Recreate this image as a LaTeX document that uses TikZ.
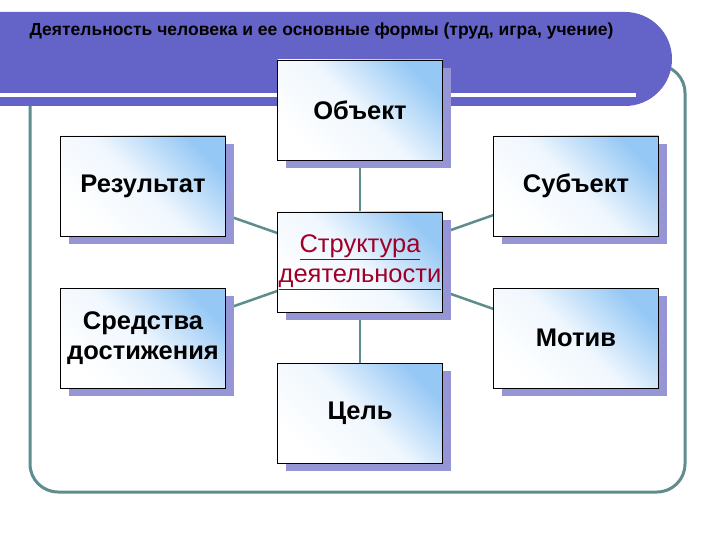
\documentclass[tikz,border=0pt]{standalone}
\usepackage{fontspec}
\setmainfont{Liberation Sans}
\usetikzlibrary{calc}
\definecolor{band}{RGB}{100,100,200}
\definecolor{frame}{RGB}{95,140,140}
\definecolor{shad}{RGB}{150,150,215}
\definecolor{lb}{RGB}{150,200,245}
\definecolor{dred}{RGB}{160,0,40}
\tikzset{
  box/.style={draw=black,line width=0.8pt,minimum width=165pt,minimum height=100pt,
    top color=lb,bottom color=white,middle color=white!85!lb,shading angle=-45,
    align=center,font=\bfseries\fontsize{25.5}{30}\selectfont,inner sep=1pt},
  link/.style={draw=frame,line width=2.5pt},
}
\begin{document}
\begin{tikzpicture}[x=1pt,y=-1pt]
\useasboundingbox (0,0) rectangle (720,540);
\fill[white] (0,0) rectangle (720,540);
% frame
\draw[frame,line width=3pt,rounded corners=28pt] (30,80) -- (30,492) -- (685,492) -- (685,65) -- (655,65);
% header band
\fill[band] (0,12) -- (625,12) arc[start angle=-90,end angle=90,radius=47] -- (0,106) -- cycle;
\fill[white] (0,93) rectangle (636,97);
\node[anchor=west,font=\bfseries\fontsize{17.5}{20}\selectfont] (title) at (26,31) {Деятельность человека и ее основные формы (труд, игра, учение)};
% box positions
\coordinate (pO) at (360,110);
\coordinate (pR) at (143,186);
\coordinate (pS) at (576,186);
\coordinate (pC) at (360,262);
\coordinate (pM) at (143,338);
\coordinate (pN) at (576,338);
\coordinate (pG) at (360,413);
% connectors
\draw[link] (pC) -- (pO); \draw[link] (pC) -- (pG);
\draw[link] (pC) -- (pR); \draw[link] (pC) -- (pS);
\draw[link] (pC) -- (pM); \draw[link] (pC) -- (pN);
% shadows
\foreach \p in {pO,pR,pS,pC,pM,pN,pG}
  \fill[shad] ($(\p)+(-74,-42)$) rectangle ($(\p)+(91,58)$);
\node[box] (obj) at (pO) {Объект};
\node[box] (res) at (pR) {Результат};
\node[box] (sub) at (pS) {Субъект};
\node[box,text=dred,font=\fontsize{25.5}{30}\selectfont] (str) at (pC) {\underline{Структура}\\\underline{деятельности}};
\node[box] (mea) at (pM) {Средства\\достижения};
\node[box] (mot) at (pN) {Мотив};
\node[box] (goa) at (pG) {Цель};
\end{tikzpicture}
\end{document}
